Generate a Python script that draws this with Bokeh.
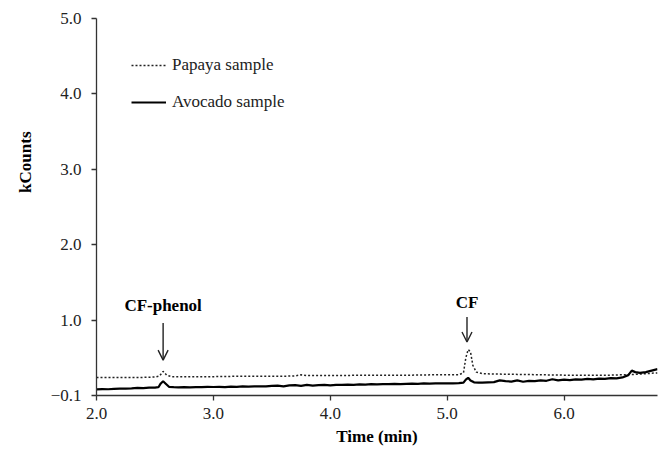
from bokeh.plotting import figure
from bokeh.models import (FixedTicker, Legend, LegendItem, Arrow, OpenHead, Label,
                          NumeralTickFormatter, Title)
from bokeh.embed import file_html
from bokeh.resources import INLINE

# ---- data ----
papaya_t = [2.00, 2.10, 2.20, 2.30, 2.40, 2.50, 2.54, 2.57, 2.60, 2.64, 2.75, 2.90,
            3.00, 3.20, 3.40, 3.60, 3.70, 3.75, 3.80, 3.90, 4.10, 4.30, 4.50, 4.70,
            4.90, 5.10, 5.14, 5.16, 5.18, 5.20, 5.22, 5.25, 5.30, 5.40, 5.60, 5.80,
            6.00, 6.20, 6.40, 6.50, 6.60, 6.70, 6.80]
papaya_v = [0.24, 0.24, 0.24, 0.24, 0.24, 0.245, 0.26, 0.32, 0.27, 0.25, 0.25, 0.25,
            0.25, 0.255, 0.255, 0.255, 0.26, 0.275, 0.265, 0.265, 0.265, 0.27, 0.27, 0.27,
            0.275, 0.275, 0.30, 0.50, 0.61, 0.58, 0.40, 0.31, 0.29, 0.285, 0.28, 0.275,
            0.27, 0.27, 0.27, 0.275, 0.28, 0.29, 0.30]

avocado_t = [2.00, 2.05, 2.10, 2.15, 2.20, 2.25, 2.30, 2.35, 2.40, 2.45, 2.50, 2.53,
             2.55, 2.57, 2.59, 2.62, 2.66, 2.70, 2.75, 2.80, 2.85, 2.90, 2.95, 3.00,
             3.05, 3.10, 3.15, 3.20, 3.25, 3.30, 3.35, 3.40, 3.45, 3.50, 3.55, 3.60,
             3.65, 3.70, 3.75, 3.80, 3.85, 3.90, 3.95, 4.00, 4.05, 4.10, 4.15, 4.20,
             4.25, 4.30, 4.35, 4.40, 4.45, 4.50, 4.55, 4.60, 4.65, 4.70, 4.75, 4.80,
             4.85, 4.90, 4.95, 5.00, 5.05, 5.10, 5.14, 5.16, 5.18, 5.20, 5.23, 5.27,
             5.30, 5.35, 5.40, 5.45, 5.50, 5.55, 5.60, 5.65, 5.70, 5.75, 5.80, 5.85,
             5.90, 5.95, 6.00, 6.05, 6.10, 6.15, 6.20, 6.25, 6.30, 6.35, 6.40, 6.45,
             6.50, 6.55, 6.58, 6.61, 6.65, 6.70, 6.75, 6.80]
avocado_v = [0.080, 0.085, 0.083, 0.088, 0.090, 0.092, 0.095, 0.100, 0.098, 0.105, 0.105, 0.110,
             0.160, 0.190, 0.160, 0.115, 0.110, 0.108, 0.110, 0.108, 0.112, 0.110, 0.115, 0.113,
             0.115, 0.112, 0.118, 0.115, 0.120, 0.118, 0.120, 0.122, 0.120, 0.128, 0.130, 0.122,
             0.135, 0.138, 0.128, 0.140, 0.132, 0.138, 0.140, 0.135, 0.142, 0.140, 0.145, 0.142,
             0.148, 0.145, 0.150, 0.148, 0.152, 0.150, 0.155, 0.152, 0.155, 0.158, 0.155, 0.160,
             0.158, 0.162, 0.160, 0.162, 0.160, 0.165, 0.170, 0.210, 0.235, 0.200, 0.175, 0.170,
             0.172, 0.175, 0.178, 0.200, 0.190, 0.185, 0.200, 0.182, 0.195, 0.190, 0.200, 0.195,
             0.215, 0.200, 0.210, 0.205, 0.215, 0.210, 0.220, 0.215, 0.225, 0.220, 0.230, 0.228,
             0.240, 0.270, 0.330, 0.310, 0.300, 0.310, 0.330, 0.350]

x_ticks = [2.0, 3.0, 4.0, 5.0, 6.0]
y_ticks = [0, 1, 2, 3, 4, 5]
y_tick_labels = ["\u22120.1", "1.0", "2.0", "3.0", "4.0", "5.0"]

peak_names = ["CF-phenol", "CF"]
peak_times = [2.57, 5.17]
arrow_tops = [0.96, 1.04]
arrow_tips = [0.47, 0.71]
label_ys = [1.19, 1.24]

FONT = "Liberation Serif"
FS = "17px"
AX = "#333333"

p = figure(width=664, height=457, x_range=(2.0, 6.8), y_range=(0, 5),
           output_backend="svg", toolbar_location=None,
           min_border_left=96, min_border_top=18, min_border_right=7,
           min_border_bottom=62)
p.outline_line_color = None
p.grid.visible = False
p.background_fill_color = "white"
p.border_fill_color = "white"

r_pap = p.line(papaya_t, papaya_v, line_color="#222222", line_width=1.5,
               line_dash="2 2")
r_avo = p.line(avocado_t, avocado_v, line_color="black", line_width=2.2)

p.xaxis.ticker = FixedTicker(ticks=x_ticks)
p.xaxis.formatter = NumeralTickFormatter(format="0.0")
p.yaxis.ticker = FixedTicker(ticks=y_ticks)
p.yaxis.major_label_overrides = {v: lab for v, lab in zip(y_ticks, y_tick_labels)}

for ax in (p.xaxis, p.yaxis):
    ax.axis_line_color = AX
    ax.axis_line_width = 1.3
    ax.major_tick_line_color = AX
    ax.major_tick_line_width = 1.3
    ax.major_tick_in = 0
    ax.major_tick_out = 5
    ax.minor_tick_line_color = None
    ax.major_label_text_font = FONT
    ax.major_label_text_font_size = FS
    ax.major_label_text_color = "#222222"
    ax.axis_label_text_font = FONT
    ax.axis_label_text_font_size = FS
    ax.axis_label_text_font_style = "bold"
    ax.axis_label_text_color = "black"

p.xaxis.axis_label = "Time (min)"
p.xaxis.major_label_standoff = 7
p.xaxis.axis_label_standoff = 5
p.yaxis.major_label_standoff = 10

ytitle = Title(text="kCounts", align="right", offset=113, standoff=26,
               text_font=FONT, text_font_size=FS, text_font_style="bold",
               text_color="black")
p.add_layout(ytitle, "left")

legend = Legend(items=[LegendItem(label="Papaya sample", renderers=[r_pap]),
                       LegendItem(label="Avocado sample", renderers=[r_avo])],
                location=(35, 283), glyph_width=35, glyph_height=20,
                label_standoff=6, spacing=17, padding=0, margin=0,
                border_line_alpha=0, background_fill_alpha=0,
                label_text_font=FONT, label_text_font_size=FS,
                label_text_color="#222222")
p.add_layout(legend)

for name, t, y0, y1, ly in zip(peak_names, peak_times, arrow_tops, arrow_tips, label_ys):
    p.add_layout(Arrow(x_start=t, y_start=y0, x_end=t, y_end=y1,
                       line_color="#222222", line_width=1.4,
                       end=OpenHead(size=10, line_width=1.4, line_color="#222222")))
    p.add_layout(Label(x=t, y=ly, text=name, text_align="center",
                       text_baseline="middle", text_font=FONT,
                       text_font_size=FS, text_font_style="bold",
                       text_color="black"))

open("out.html", "w").write(file_html(p, INLINE))
